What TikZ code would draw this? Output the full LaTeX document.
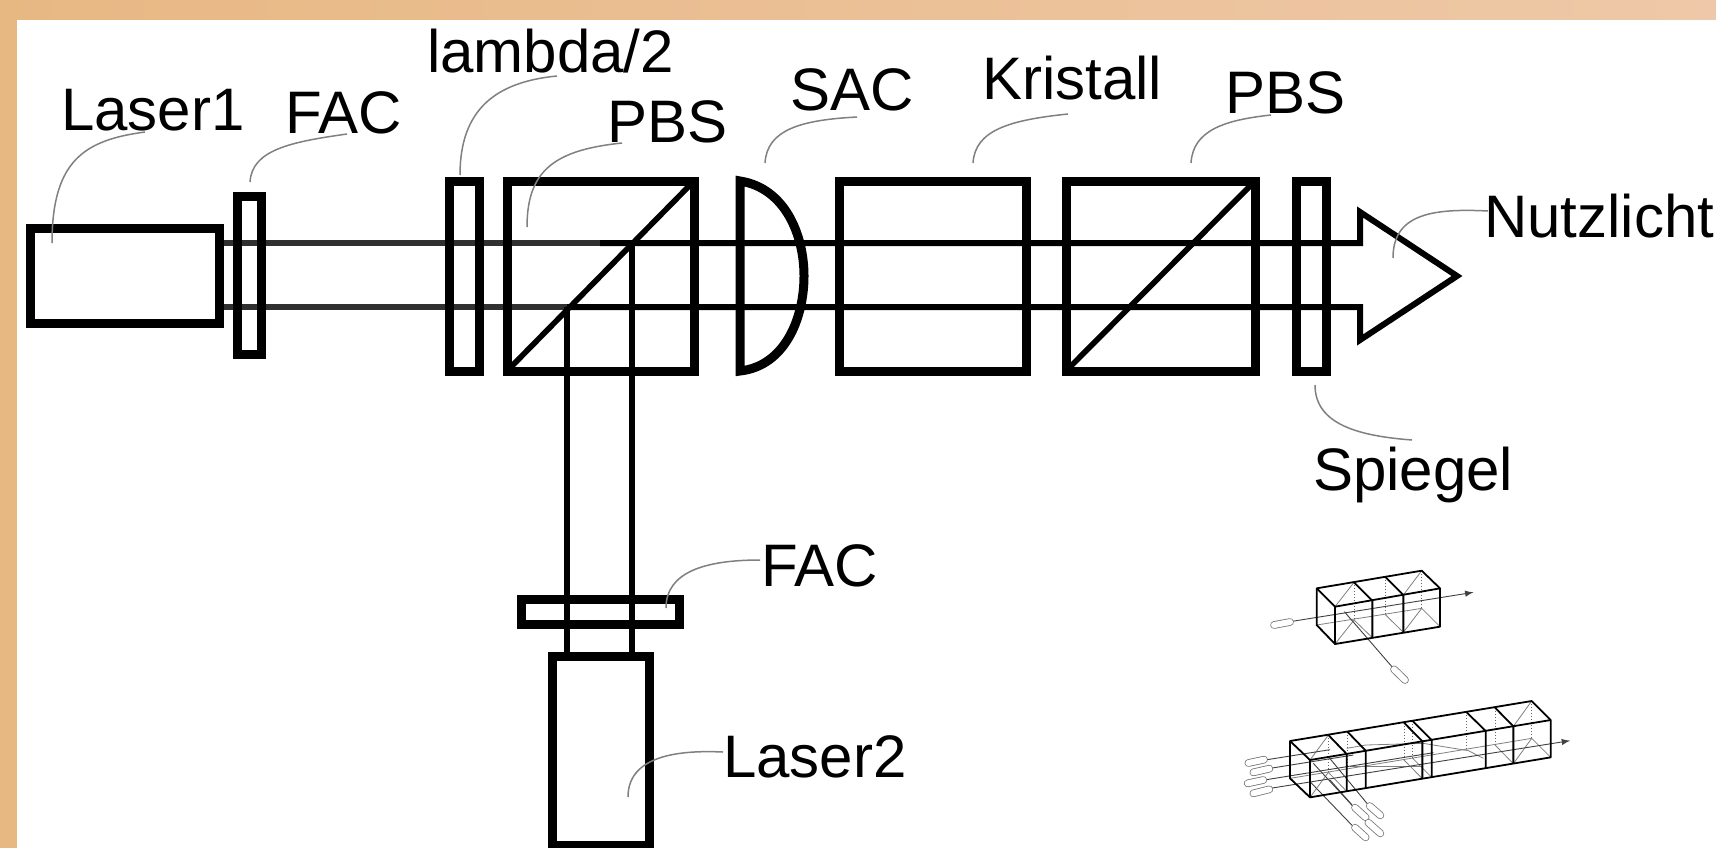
\documentclass[tikz,border=0pt]{standalone}
\usepackage{fontspec}
\setmainfont{Liberation Sans}
\definecolor{frameL}{HTML}{E8B883}
\definecolor{frameR}{HTML}{EEC8A8}
\definecolor{beamdark}{HTML}{303030}
\tikzset{
  comp/.style={draw=black,line width=4.5pt,rectangle,inner sep=0pt,outer sep=0pt},
  lbl/.style={inner sep=0pt,outer sep=0pt,anchor=base west,font=\fontsize{30}{31}\selectfont},
  leader/.style={draw=black!50,line width=0.75pt},
  beam/.style={draw=black,line width=3pt},
  beamgrey/.style={draw=beamdark,line width=3.2pt},
  cubeline/.style={draw=black,line width=0.9pt},
  hidden/.style={draw=black!60,line width=0.5pt,densely dotted},
  thinl/.style={draw=black!50,line width=0.4pt},
  ray/.style={draw=black!75,line width=0.45pt},
  capsout/.style={draw=black!55,line cap=round,line width=3.8pt},
  capsin/.style={draw=white,line cap=round,line width=3pt}
}
\newcommand{\capsule}[2]{\draw[capsout] #1 -- #2; \draw[capsin] #1 -- #2;}
\begin{document}
\begin{tikzpicture}[x=0.5pt,y=-0.5pt]
\useasboundingbox (0,0) rectangle (1716,847);
\shade[left color=frameL,right color=frameR] (0,0) rectangle (1716,847);
\fill[white] (17,20) rectangle (1730,865);

% beams
\coordinate (bt0) at (219,243); \coordinate (bt1) at (600,243); \coordinate (bt2) at (1360,243);
\coordinate (bb0) at (219,307); \coordinate (bb1) at (567,307); \coordinate (bb2) at (1360,307);
\coordinate (vl0) at (567,307); \coordinate (vr0) at (632,243);
\coordinate (ah1) at (1360,212); \coordinate (ah2) at (1457,276); \coordinate (ah3) at (1360,340);
\draw[beamgrey] (bt0) -- (bt1);
\draw[beamgrey] (bb0) -- (bb1);
\draw[beam,line join=miter] (bt1) -- (bt2) -- (ah1) -- (ah2) -- (ah3) -- (bb2) -- (bb1);

% components
\node[comp,minimum width=94.5pt,minimum height=47.5pt] (laserA) at (124.5,275.5) {};
\node[comp,minimum width=12pt,minimum height=79pt] (facA) at (249,275) {};
\node[comp,minimum width=15pt,minimum height=95pt] (lam) at (464,276) {};
\node[comp,minimum width=93.5pt,minimum height=95pt] (pbsA) at (600.5,276) {};
\node[comp,minimum width=93.5pt,minimum height=95pt] (kris) at (932.5,276) {};
\node[comp,minimum width=94.5pt,minimum height=95pt] (pbsB) at (1160.5,276) {};
\node[comp,minimum width=15pt,minimum height=95pt] (spie) at (1311,276) {};
\node[comp,minimum width=79pt,minimum height=12.5pt] (facB) at (600,611.5) {};
\node[comp,minimum width=48.5pt,minimum height=94.5pt] (laserB) at (600.5,751) {};

% vertical beams
\draw[beam] (vl0) -- (vl0 |- laserB.north);
\draw[beam] (vr0) -- (vr0 |- laserB.north);

% beam splitter diagonals
\draw[draw=black,line width=2.8pt] (pbsA.south west) -- (pbsA.north east);
\draw[draw=black,line width=2.8pt] (pbsB.south west) -- (pbsB.north east);

% lens
\coordinate (lensT) at (740,181); \coordinate (lensB) at (740,371);
\draw[draw=black,line width=4.5pt,line join=miter] (lensT) .. controls (785,188) and (804,235) .. (804,276) .. controls (804,318) and (785,366) .. (lensB) -- cycle;

% labels
\node[lbl] (tLaserA) at (61,130) {Laser1};
\node[lbl] (tFacA) at (285,133) {FAC};
\node[lbl] (tLam) at (427,72) {lambda/2};
\node[lbl] (tPbsA) at (607,142) {PBS};
\node[lbl] (tSac) at (790,110) {SAC};
\node[lbl] (tKris) at (982,99) {Kristall};
\node[lbl] (tPbsB) at (1225,113) {PBS};
\node[lbl] (tNutz) at (1484,237) {Nutzlicht};
\node[lbl] (tSpie) at (1313,490) {Spiegel};
\node[lbl] (tFacB) at (761,586) {FAC};
\node[lbl] (tLaserB) at (723,777) {Laser2};

% leaders
\coordinate (eLaserA) at (52,243);
\coordinate (eFacA) at (250,182);
\coordinate (eLam) at (460,175);
\coordinate (ePbsA) at (527,227);
\coordinate (eSac) at (765,163);
\coordinate (eKris) at (973,163);
\coordinate (ePbsB) at (1191,163);
\coordinate (eNutz) at (1393,258);
\coordinate (eSpie) at (1315,385);
\coordinate (eFacB) at (666,608);
\coordinate (eLaserB) at (628,797);
\draw[leader] ([shift={(84,2)}]tLaserA.base west) .. controls (85,140) and (52,160) .. (eLaserA);
\draw[leader] ([shift={(62,1)}]tFacA.base west) .. controls (290,142) and (252,150) .. (eFacA);
\draw[leader] ([shift={(130,4)}]tLam.base west) .. controls (495,82) and (460,110) .. (eLam);
\draw[leader] ([shift={(15,1)}]tPbsA.base west) .. controls (555,150) and (527,170) .. (ePbsA);
\draw[leader] ([shift={(67,7)}]tSac.base west) .. controls (800,120) and (767,130) .. (eSac);
\draw[leader] ([shift={(86,15)}]tKris.base west) .. controls (1010,120) and (975,130) .. (eKris);
\draw[leader] ([shift={(46,2)}]tPbsB.base west) .. controls (1225,120) and (1193,130) .. (ePbsB);
\draw[leader] ([shift={(4,-26)}]tNutz.base west) .. controls (1430,208) and (1393,215) .. (eNutz);
\draw[leader] ([shift={(99,-50)}]tSpie.base west) .. controls (1360,436) and (1315,425) .. (eSpie);
\draw[leader] ([shift={(-1,-26)}]tFacB.base west) .. controls (705,560) and (666,572) .. (eFacB);
\draw[leader] ([shift={(0,-25)}]tLaserB.base west) .. controls (680,750) and (628,755) .. (eLaserB);

% small three-cube sketch
\begin{scope}[shift={(1240,550)},x=0.16667pt,y=-0.16667pt]
  \draw[thinl] (342,97)--(285,170) (545,62)--(490,135);
  \draw[thinl] (342,210)--(285,282) (545,175)--(490,247);
  \draw[thinl] (230,225)--(545,175) (342,210)--(397,263) (435,193)--(490,247) (545,175)--(600,230);
  \draw[hidden] (342,97)--(342,210) (435,80)--(435,193) (545,62)--(545,175);
  \draw[ray,-latex] (150,215)--(700,127);
  \draw[ray] (313,185)--(460,355);
  \capsule{(102,225)}{(150,216)}
  \capsule{(462,358)}{(495,390)}
  \draw[cubeline,line join=round] (230,115)--(545,62)--(600,115)--(600,230)--(285,282)--(230,225)--cycle;
  \draw[cubeline] (230,115)--(285,170)--(600,115) (285,170)--(285,282);
  \draw[cubeline] (342,97)--(397,152)--(397,263) (435,80)--(490,135)--(490,247);
\end{scope}

% long sketch
\begin{scope}[shift={(1220,680)},x=0.16667pt,y=-0.16667pt]
  \draw[hidden] (325,165)--(325,277) (382,155)--(382,267) (552,128)--(552,240) (578,123)--(578,235) (740,97)--(740,209) (825,83)--(825,195) (935,63)--(935,175);
  \draw[thinl] (325,165)--(270,240) (325,277)--(270,352) (935,63)--(880,139) (935,175)--(880,251);
  \draw[thinl] (210,295)--(935,175) (325,277)--(380,334) (552,240)--(607,296) (578,235)--(635,292) (825,195)--(880,251) (935,175)--(992,232);
  \draw[thinl] (380,205)--(437,195)--(610,190)--(640,195)--(745,212)--(790,235);
  \draw[thinl] (390,258)--(610,258);
  \draw[ray,-latex] (150,325)--(1050,182);
  \draw[ray] (135,240)--(330,209);
  \draw[ray] (150,265)--(400,225);
  \draw[ray] (133,300)--(640,218);
  \draw[ray] (280,250)--(400,380);
  \draw[ray] (325,230)--(445,375);
  \draw[ray] (270,305)--(400,440);
  \draw[ray] (330,300)--(440,425);
  \capsule{(85,249)}{(132,239)}
  \capsule{(100,277)}{(148,266)}
  \capsule{(83,310)}{(130,300)}
  \capsule{(100,340)}{(148,328)}
  \capsule{(405,383)}{(437,412)}
  \capsule{(449,378)}{(481,406)}
  \capsule{(405,443)}{(437,472)}
  \capsule{(445,428)}{(481,460)}
  \draw[cubeline,line join=round] (210,183)--(935,63)--(992,120)--(992,232)--(270,352)--(210,295)--cycle;
  \draw[cubeline] (210,183)--(270,240)--(992,120) (270,240)--(270,352);
  \draw[cubeline] (325,165)--(380,222)--(380,334) (382,155)--(437,212)--(437,324) (552,128)--(607,184)--(607,296) (578,123)--(635,180)--(635,292) (740,97)--(797,153)--(797,265) (825,83)--(880,139)--(880,251);
\end{scope}
\end{tikzpicture}
\end{document}
